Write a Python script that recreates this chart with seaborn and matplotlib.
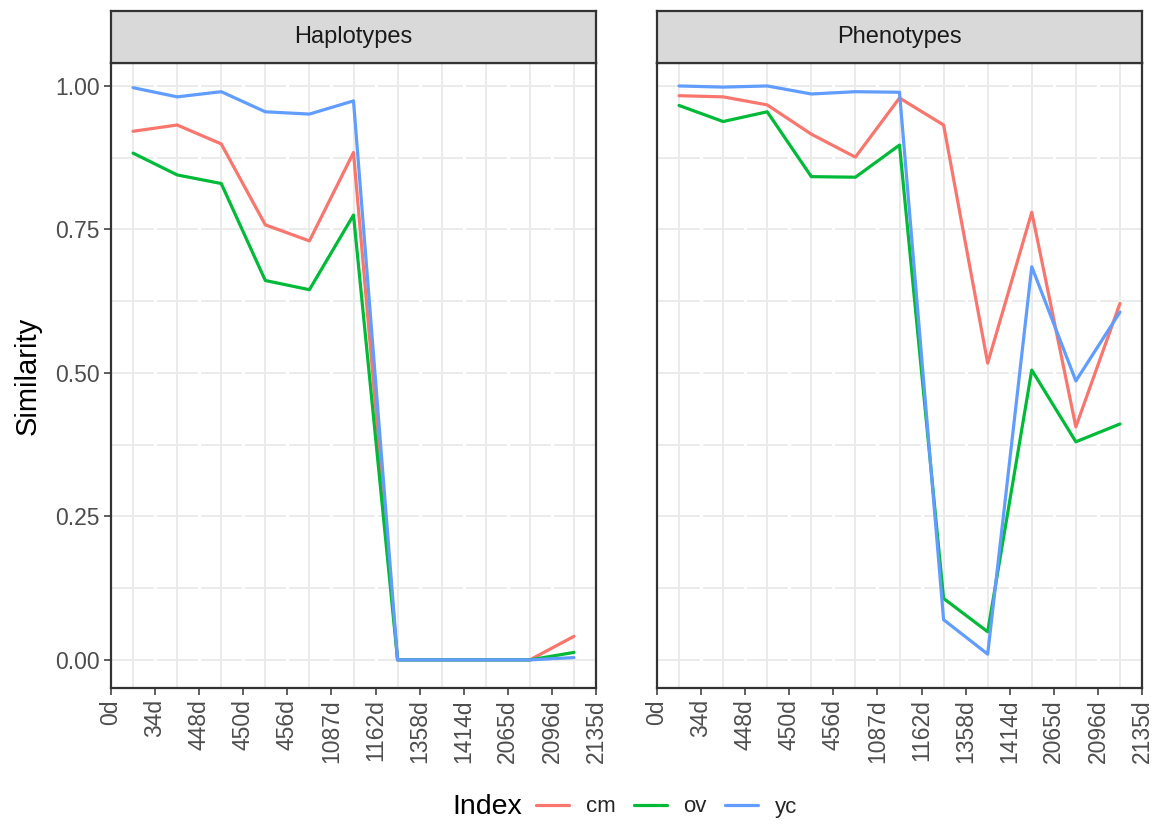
import numpy as np
import pandas as pd
import matplotlib
matplotlib.use("Agg")
import matplotlib.pyplot as plt
from matplotlib.lines import Line2D
import seaborn as sns

# ---------------- data ----------------
tick_labels = ["0d", "34d", "448d", "450d", "456d", "1087d", "1162d",
               "1358d", "1414d", "2065d", "2096d", "2135d"]
steps = list(range(1, 12))          # 11 observation steps
facets = ["Haplotypes", "Phenotypes"]
indices = ["cm", "ov", "yc"]

hap_cm = [0.921, 0.932, 0.899, 0.758, 0.730, 0.884, 0.0, 0.0, 0.0, 0.0, 0.041]
hap_ov = [0.883, 0.845, 0.830, 0.661, 0.645, 0.775, 0.0, 0.0, 0.0, 0.0, 0.013]
hap_yc = [0.997, 0.981, 0.990, 0.955, 0.951, 0.974, 0.0, 0.0, 0.0, 0.0, 0.004]

phe_cm = [0.983, 0.981, 0.967, 0.916, 0.876, 0.979, 0.932, 0.517, 0.780, 0.406, 0.621]
phe_ov = [0.966, 0.938, 0.955, 0.842, 0.841, 0.897, 0.107, 0.049, 0.505, 0.380, 0.411]
phe_yc = [1.000, 0.998, 1.000, 0.986, 0.990, 0.989, 0.070, 0.010, 0.685, 0.486, 0.606]

series = {
    "Haplotypes": {"cm": hap_cm, "ov": hap_ov, "yc": hap_yc},
    "Phenotypes": {"cm": phe_cm, "ov": phe_ov, "yc": phe_yc},
}
palette = {"cm": "#F8766D", "ov": "#00BA38", "yc": "#619CFF"}

rows = []
for f in facets:
    for idx in indices:
        for s, v in zip(steps, series[f][idx]):
            rows.append({"facet": f, "Index": idx, "step": s, "Similarity": v})
df = pd.DataFrame(rows)

# ---------------- figure ----------------
sns.set_theme(style="white")
plt.rcParams["font.family"] = ["Liberation Sans", "DejaVu Sans"]

W, H = 1161, 825
fig = plt.figure(figsize=(W / 100, H / 100), dpi=100)

panel_left = [111, 657]
panel_w = 485
panel_top, panel_bot = 63, 688
strip_top = 11

grid_col = "#EBEBEB"
frame_col = "#333333"
tick_pos = np.arange(len(tick_labels)) + 0.5
tick_fs = 16.5

for i, f in enumerate(facets):
    l = panel_left[i] / W
    b = 1 - panel_bot / H
    ax = fig.add_axes([l, b, panel_w / W, (panel_bot - panel_top) / H])
    ax.set_facecolor("white")
    sub = df[df["facet"] == f]
    sns.lineplot(data=sub, x="step", y="Similarity", hue="Index",
                 palette=palette, hue_order=indices, linewidth=2.3,
                 ax=ax, legend=False, zorder=3)
    ax.set_xlim(0.5, 11.5)
    ax.set_ylim(-0.049, 1.04)

    # grid: vertical at observation steps, horizontal major + minor
    ax.set_xticks(tick_pos)
    ax.set_xticks(steps, minor=True)
    ax.set_yticks([0, 0.25, 0.5, 0.75, 1.0])
    ax.set_yticks([0.125, 0.375, 0.625, 0.875], minor=True)
    ax.grid(True, which="both", color=grid_col, linewidth=1.4)
    ax.grid(False, which="major", axis="x")
    ax.set_axisbelow(True)
    # small gaps in horizontal gridlines at the tick positions
    ax.vlines(tick_pos[1:-1], -0.049, 1.04, colors="white", linewidth=2.4, zorder=0.8)

    ax.set_xticklabels(tick_labels, rotation=90, fontsize=tick_fs, color="#4D4D4D")
    ax.tick_params(axis="x", which="major", length=5, width=1.1, color=frame_col, pad=3,
                   bottom=True)
    ax.tick_params(axis="both", which="minor", length=0)
    if i == 0:
        ax.set_yticklabels(["0.00", "0.25", "0.50", "0.75", "1.00"],
                           fontsize=tick_fs, color="#4D4D4D")
        ax.tick_params(axis="y", which="major", length=5, width=1.1, color=frame_col,
                       pad=3, left=True)
        ax.set_ylabel("Similarity", fontsize=21, color="black", labelpad=10)
    else:
        ax.set_yticklabels([])
        ax.tick_params(axis="y", which="major", length=0)
        ax.set_ylabel("")
    ax.set_xlabel("")
    for sp in ax.spines.values():
        sp.set_color(frame_col)
        sp.set_linewidth(1.6)
        sp.set_visible(True)

    # facet strip
    sax = fig.add_axes([l, 1 - panel_top / H, panel_w / W, (panel_top - strip_top) / H])
    sax.set_facecolor("#D9D9D9")
    sax.set_xticks([])
    sax.set_yticks([])
    for sp in sax.spines.values():
        sp.set_color(frame_col)
        sp.set_linewidth(1.6)
        sp.set_visible(True)
    sax.text(0.5, 0.5, f, ha="center", va="center", fontsize=17,
             color="#1A1A1A", transform=sax.transAxes)

# legend at bottom
fig.text(452 / W, 1 - 807 / H, "Index", fontsize=20.5, color="black",
         ha="left", va="center")
handles = [Line2D([0], [0], color=palette[k], lw=2.3) for k in indices]
fig.legend(handles, indices, loc="center left",
           bbox_to_anchor=(536 / W, 1 - 807 / H), ncol=3, frameon=False,
           fontsize=16, handlelength=1.5, handletextpad=0.75,
           columnspacing=0.8, borderpad=0, borderaxespad=0)

fig.savefig("out.png", dpi=100)
